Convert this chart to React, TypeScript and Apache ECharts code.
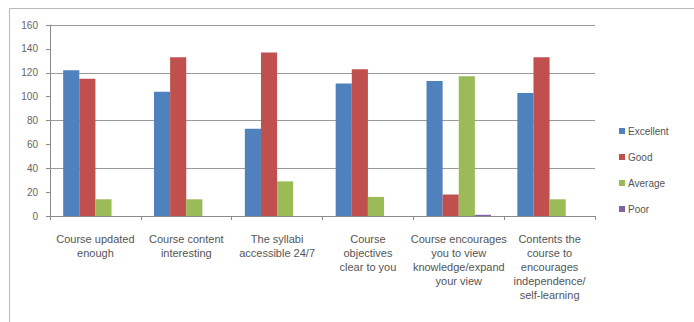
import React, { useEffect, useRef } from "react";
import * as echarts from "echarts";

const categories = [
  "Course updated\nenough",
  "Course content\ninteresting",
  "The syllabi\naccessible 24/7",
  "Course\nobjectives\nclear to you",
  "Course encourages\nyou to view\nknowledge/expand\nyour view",
  "Contents the\ncourse to\nencourages\nindependence/\nself-learning",
];

const seriesNames = ["Excellent", "Good", "Average", "Poor"];
const excellent = [122, 104, 73, 111, 113, 103];
const good = [115, 133, 137, 123, 18, 133];
const average = [14, 14, 29, 16, 117, 14];
const poor = [0, 0, 0, 0, 1, 0];

const yTicks = [0, 20, 40, 60, 80, 100, 120, 140, 160];
// Major gridlines are drawn only every other tick
const gridValues = [40, 80, 120, 160];

const colors = ["#4F81BD", "#C0504D", "#9BBB59", "#8064A2"];

export default function App() {
  const ref = useRef<HTMLDivElement>(null);

  useEffect(() => {
    document.body.style.margin = "0";
    const chart = echarts.init(ref.current!, null, { renderer: "svg" });
    const font = "'Liberation Sans', Arial, sans-serif";
    const values = [excellent, good, average, poor];
    chart.setOption({
      animation: false,
      color: colors,
      textStyle: { fontFamily: font },
      graphic: [
        {
          type: "rect",
          shape: { x: 9.5, y: 8.5, width: 700, height: 340 },
          style: { fill: "none", stroke: "#b8b8b8", lineWidth: 1 },
          silent: true,
          z: -1,
        },
      ],
      grid: { left: 50, right: 99, top: 25, bottom: 106, containLabel: false },
      legend: {
        orient: "vertical",
        left: 614,
        top: 121,
        itemWidth: 6,
        itemHeight: 6,
        itemGap: 16,
        icon: "rect",
        data: seriesNames,
        textStyle: { fontSize: 10, color: "#555", fontFamily: font, padding: [0, 0, 0, -2] },
      },
      xAxis: {
        type: "category",
        data: categories,
        axisLine: { lineStyle: { color: "#8a8a8a" } },
        axisTick: { show: true, length: 4, lineStyle: { color: "#8a8a8a" } },
        splitLine: { show: false },
        axisLabel: {
          interval: 0,
          fontSize: 11,
          color: "#555",
          lineHeight: 14,
          margin: 16,
          fontFamily: font,
        },
      },
      yAxis: {
        type: "value",
        min: yTicks[0],
        max: yTicks[yTicks.length - 1],
        interval: 20,
        axisLine: { show: true, lineStyle: { color: "#8a8a8a" } },
        axisTick: { show: true, length: 4, lineStyle: { color: "#8a8a8a" } },
        axisLabel: { fontSize: 10, color: "#666", margin: 12, fontFamily: font },
        splitLine: { show: false },
        minorSplitLine: { show: false },
      },
      series: [
        ...seriesNames.map((name, i) => ({
          name,
          type: "bar",
          z: 3,
          itemStyle: { color: colors[i] },
          data: values[i],
          barGap: "0%",
          barCategoryGap: "29%",
        })),
        {
          name: "gridlines",
          type: "line",
          data: [],
          z: 0,
          silent: true,
          markLine: {
            silent: true,
            z: 1,
            symbol: "none",
            label: { show: false },
            lineStyle: { color: "#9a9a9a", width: 1, type: "solid" },
            emphasis: { disabled: true },
            data: gridValues.map((v) => ({ yAxis: v })),
          },
        },
      ],
    });
    return () => chart.dispose();
  }, []);

  return <div ref={ref} style={{ width: 694, height: 322 }} />;
}
